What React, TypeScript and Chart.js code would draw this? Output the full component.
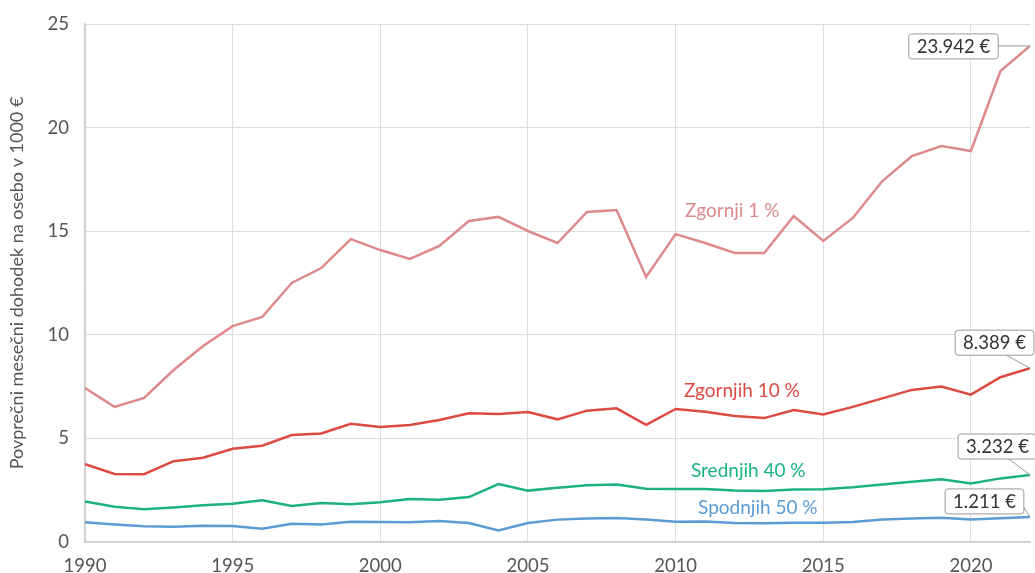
import React, { useEffect, useRef } from "react";
import { Chart, registerables } from "chart.js";

Chart.register(...registerables);

const years = [
  1990, 1991, 1992, 1993, 1994, 1995, 1996, 1997, 1998, 1999, 2000, 2001, 2002, 2003, 2004, 2005,
  2006, 2007, 2008, 2009, 2010, 2011, 2012, 2013, 2014, 2015, 2016, 2017, 2018, 2019, 2020, 2021, 2022,
];

const top1 = [
  7.43, 6.52, 6.95, 8.3, 9.46, 10.42, 10.86, 12.5, 13.22, 14.62, 14.09, 13.66, 14.29, 15.49, 15.69, 15.01,
  14.43, 15.93, 16.02, 12.79, 14.86, 14.43, 13.95, 13.95, 15.73, 14.53, 15.64, 17.42, 18.63, 19.11, 18.87, 22.73, 23.942,
];

const top10 = [
  3.76, 3.28, 3.27, 3.9, 4.07, 4.5, 4.65, 5.16, 5.24, 5.71, 5.55, 5.65, 5.89, 6.21, 6.18, 6.27,
  5.92, 6.34, 6.45, 5.65, 6.42, 6.29, 6.08, 5.98, 6.37, 6.16, 6.52, 6.93, 7.34, 7.5, 7.11, 7.95, 8.389,
];

const middle40 = [
  1.95, 1.7, 1.58, 1.66, 1.77, 1.85, 2.01, 1.74, 1.88, 1.82, 1.92, 2.08, 2.04, 2.17, 2.8, 2.48,
  2.62, 2.74, 2.78, 2.57, 2.56, 2.56, 2.49, 2.46, 2.53, 2.54, 2.64, 2.78, 2.91, 3.03, 2.82, 3.07, 3.232,
];

const bottom50 = [
  0.95, 0.85, 0.76, 0.74, 0.79, 0.77, 0.64, 0.88, 0.84, 0.98, 0.97, 0.95, 1.01, 0.92, 0.56, 0.92,
  1.08, 1.14, 1.16, 1.08, 0.98, 0.99, 0.92, 0.91, 0.93, 0.93, 0.96, 1.08, 1.13, 1.17, 1.08, 1.15, 1.211,
];

const seriesNames = ["Zgornji 1 %", "Zgornjih 10 %", "Srednjih 40 %", "Spodnjih 50 %"];
const endLabels = ["23.942 €", "8.389 €", "3.232 €", "1.211 €"];
const xTicks = [1990, 1995, 2000, 2005, 2010, 2015, 2020];
const yTitle = "Povprečni mesečni dohodek na osebo v 1000 €";

const colors = ["#dc8a8c", "#dc4a42", "#1bb185", "#5b9bd3"];
const FONT = "Lato, 'Noto Sans', sans-serif";

// label anchors in data coordinates (year, value)
const nameAnchors = [
  { x: 2010.32, y: 15.97 },
  { x: 2010.28, y: 7.29 },
  { x: 2010.52, y: 3.43 },
  { x: 2010.76, y: 1.64 },
];

// value boxes: center offset from end point (px) and leader start on box
const boxStyles = [
  { dx: -77, dy: 0, lead: "right" },
  { dx: -36, dy: -26, lead: "bottom" },
  { dx: -33, dy: -29, lead: "bottom" },
  { dx: -46, dy: -16, lead: "rightLow" },
];

const annotationPlugin = {
  id: "annots",
  afterDraw(chart: any) {
    const ctx = chart.ctx;
    const xs = chart.scales.x;
    const ys = chart.scales.y;
    ctx.save();
    ctx.font = `19px ${FONT}`;
    ctx.textBaseline = "middle";
    ctx.textAlign = "left";
    nameAnchors.forEach((a, i) => {
      ctx.fillStyle = colors[i];
      ctx.fillText(seriesNames[i], xs.getPixelForValue(a.x), ys.getPixelForValue(a.y));
    });
    const ends = [top1, top10, middle40, bottom50];
    endLabels.forEach((t, i) => {
      const px = xs.getPixelForValue(years[years.length - 1]);
      const py = ys.getPixelForValue(ends[i][ends[i].length - 1]);
      const st = boxStyles[i];
      ctx.font = `18.5px ${FONT}`;
      const w = ctx.measureText(t).width + 16;
      const h = 25;
      const cx = px + st.dx;
      const cy = py + st.dy;
      const l = cx - w / 2;
      const tp = cy - h / 2;
      let sx = l + w;
      let sy = cy;
      if (st.lead === "bottom") {
        sx = l + w - 28;
        sy = tp + h;
      } else if (st.lead === "rightLow") {
        sx = l + w - 1;
        sy = tp + h - 8;
      }
      ctx.strokeStyle = "#9a9a9a";
      ctx.lineWidth = 1;
      ctx.beginPath();
      ctx.moveTo(sx, sy);
      ctx.lineTo(px, py);
      ctx.stroke();
      ctx.fillStyle = "#ffffff";
      ctx.beginPath();
      (ctx as any).roundRect(l + 0.5, tp + 0.5, w, h, 3);
      ctx.fill();
      ctx.stroke();
      ctx.fillStyle = "#333333";
      ctx.textAlign = "center";
      ctx.fillText(t, cx + 0.5, cy + 1);
      ctx.textAlign = "left";
    });
    ctx.restore();
  },
};

export default function App() {
  const ref = useRef<HTMLCanvasElement>(null);
  useEffect(() => {
    if (!ref.current) return;
    const mk = (data: number[], i: number) => ({
      label: seriesNames[i],
      data: years.map((y, k) => ({ x: y, y: data[k] })),
      borderColor: colors[i],
      backgroundColor: colors[i],
      borderWidth: 2.5,
      pointRadius: 0,
      tension: 0,
    });
    const chart = new Chart(ref.current, {
      type: "line",
      data: {
        datasets: [mk(top1, 0), mk(top10, 1), mk(middle40, 2), mk(bottom50, 3)],
      },
      options: {
        animation: false,
        responsive: false,
        maintainAspectRatio: false,
        layout: { padding: { left: 6, right: 5, top: 24, bottom: 0 } },
        plugins: { legend: { display: false }, tooltip: { enabled: false } },
        scales: {
          x: {
            type: "linear",
            min: 1990,
            max: 2022,
            afterBuildTicks: (s: any) => {
              s.ticks = xTicks.map((v) => ({ value: v }));
            },
            afterFit: (s: any) => {
              s.height = 31;
              s.paddingLeft = 0;
              s.paddingRight = 0;
            },
            grid: { color: "#dddddd", lineWidth: 1, drawTicks: false },
            border: { color: "#cccccc", width: 1.5 },
            ticks: {
              color: "#555555",
              font: { family: FONT, size: 18.5 },
              padding: 13,
              maxRotation: 0,
              callback: (v: any) => String(v),
            },
          },
          y: {
            min: 0,
            max: 25,
            afterFit: (s: any) => {
              s.width = 79;
              s.paddingTop = 0;
              s.paddingBottom = 0;
            },
            grid: { color: "#dddddd", lineWidth: 1, drawTicks: false },
            border: { color: "#cccccc", width: 1.5 },
            ticks: {
              stepSize: 5,
              color: "#555555",
              font: { family: FONT, size: 18.5 },
              padding: 16,
            },
            title: {
              display: true,
              text: yTitle,
              color: "#555555",
              font: { family: FONT, size: 18 },
              padding: 0,
            },
          },
        },
      },
      plugins: [annotationPlugin],
    });
    return () => chart.destroy();
  }, []);
  return (
    <div style={{ position: "fixed", left: 0, top: 0, width: 1035, height: 573, background: "#fff" }}>
      <canvas ref={ref} width={1035} height={573} style={{ width: 1035, height: 573 }} />
    </div>
  );
}
